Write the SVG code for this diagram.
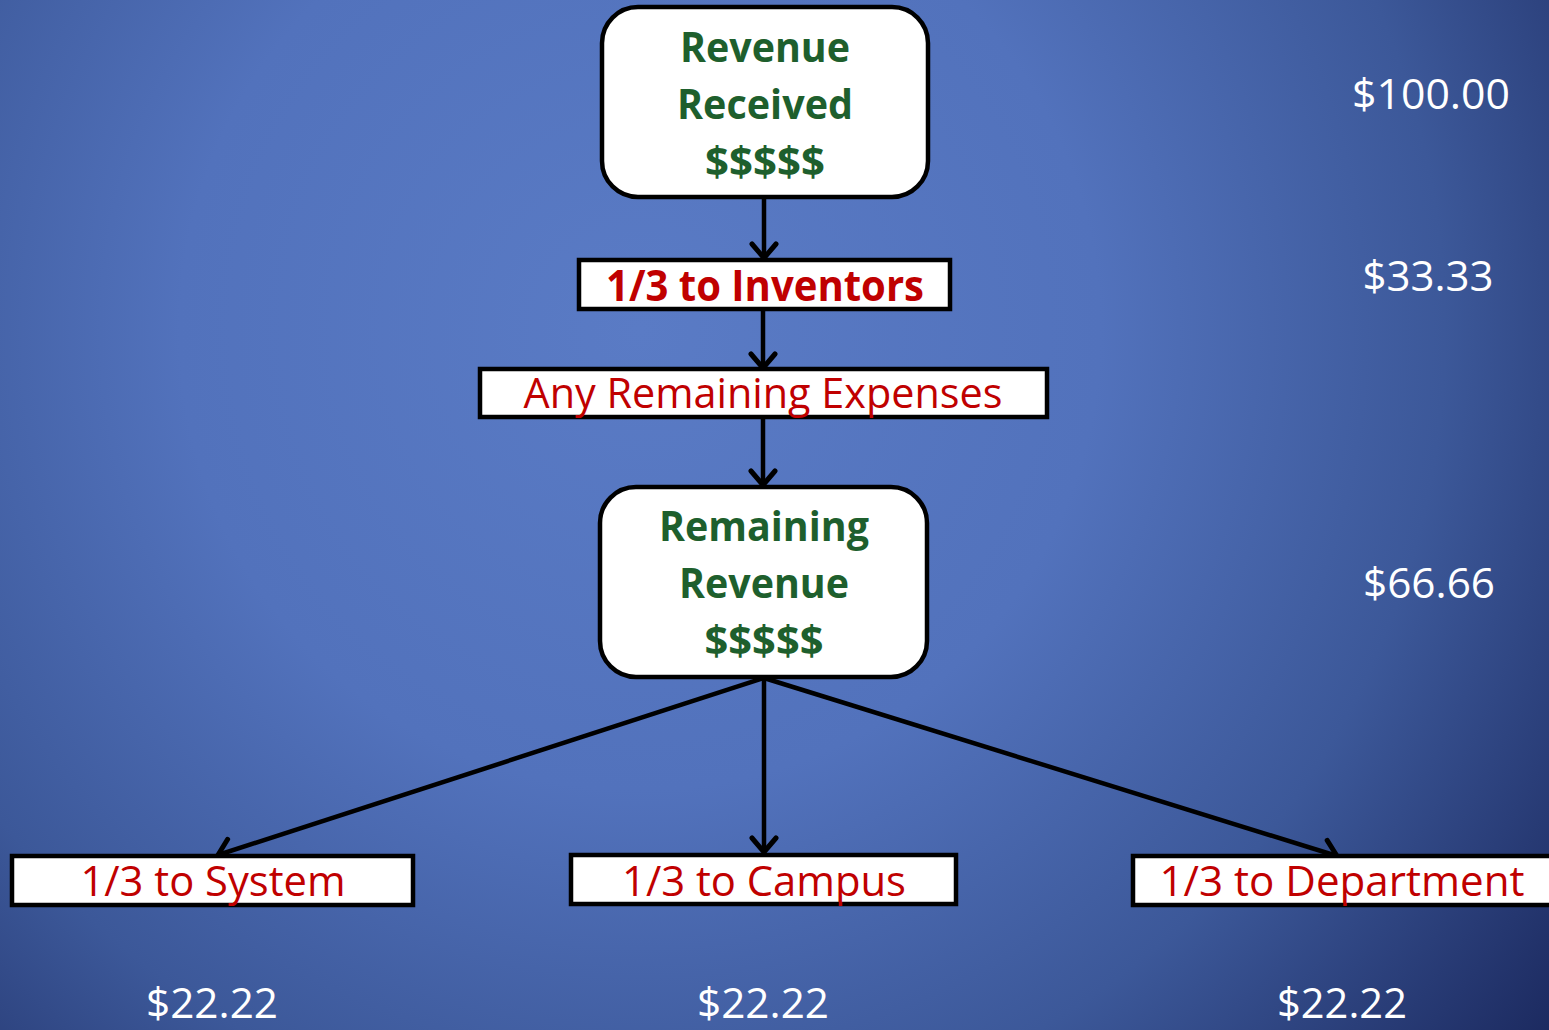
<svg xmlns="http://www.w3.org/2000/svg" width="1549" height="1030" viewBox="0 0 1549 1030">
<defs>
<radialGradient id="bg" gradientUnits="userSpaceOnUse" cx="640" cy="330" r="1150">
<stop offset="0" stop-color="#5a7bc5"/>
<stop offset="0.4" stop-color="#5272bc"/>
<stop offset="0.7" stop-color="#3c5899"/>
<stop offset="1" stop-color="#1c2a60"/>
</radialGradient>
<marker id="arr" viewBox="0 0 32 32" refX="27" refY="16" markerWidth="32" markerHeight="32" markerUnits="userSpaceOnUse" orient="auto">
<path d="M13,4 L27,16 L13,28" fill="none" stroke="#000" stroke-width="5" stroke-linecap="round" stroke-linejoin="round"/>
</marker>
<style>
.rbox{fill:#fff;stroke:#000;stroke-width:4.5}
.sbox{fill:#fff;stroke:#000;stroke-width:4.5}
.g{font-family:"Open Sans","Liberation Sans",sans-serif;font-weight:bold;font-size:42px;fill:#1e5f2d;text-anchor:middle}
.rb{font-family:"Open Sans","Liberation Sans",sans-serif;font-weight:bold;font-size:43px;fill:#c00000;text-anchor:middle}
.r{font-family:"Open Sans","Liberation Sans",sans-serif;font-size:42px;fill:#c00000;text-anchor:middle}
.w{font-family:"Open Sans","Liberation Sans",sans-serif;font-size:42px;fill:#fff;text-anchor:middle}
.c{stroke:#000;stroke-width:4.5;fill:none;marker-end:url(#arr)}
</style>
</defs>
<rect x="0" y="0" width="1549" height="1030" fill="url(#bg)"/>

<g id="connectors">
<line class="c" x1="764" y1="198" x2="764" y2="258"/>
<line class="c" x1="763" y1="310" x2="763" y2="368"/>
<line class="c" x1="763" y1="418" x2="763" y2="485"/>
<line class="c" x1="764" y1="678" x2="218" y2="855"/>
<line class="c" x1="764" y1="678" x2="764" y2="852"/>
<line class="c" x1="764" y1="678" x2="1337" y2="856"/>
</g>

<g id="revenue-received">
<rect class="rbox" x="602" y="7" width="326" height="190" rx="36"/>
<text class="g" x="765" y="62" textLength="170" lengthAdjust="spacingAndGlyphs">Revenue</text>
<text class="g" x="765" y="119" textLength="176" lengthAdjust="spacingAndGlyphs">Received</text>
<text class="g" x="765" y="176" textLength="120" lengthAdjust="spacingAndGlyphs">$$$$$</text>
</g>

<g id="inventors">
<rect class="sbox" x="579" y="260" width="371" height="49"/>
<text class="rb" x="765" y="301" textLength="318" lengthAdjust="spacingAndGlyphs">1/3 to Inventors</text>
</g>

<g id="expenses">
<rect class="sbox" x="480" y="369" width="567" height="48"/>
<text class="r" x="763" y="408" textLength="479" lengthAdjust="spacingAndGlyphs">Any Remaining Expenses</text>
</g>

<g id="remaining-revenue">
<rect class="rbox" x="600" y="487" width="327" height="190" rx="36"/>
<text class="g" x="764" y="541" textLength="210" lengthAdjust="spacingAndGlyphs">Remaining</text>
<text class="g" x="764" y="598" textLength="170" lengthAdjust="spacingAndGlyphs">Revenue</text>
<text class="g" x="764" y="655" textLength="119" lengthAdjust="spacingAndGlyphs">$$$$$</text>
</g>

<g id="system">
<rect class="sbox" x="12" y="856" width="401" height="49"/>
<text class="r" x="213" y="896" textLength="265" lengthAdjust="spacingAndGlyphs">1/3 to System</text>
</g>

<g id="campus">
<rect class="sbox" x="571" y="855" width="385" height="49"/>
<text class="r" x="764" y="896" textLength="284" lengthAdjust="spacingAndGlyphs">1/3 to Campus</text>
</g>

<g id="department">
<rect class="sbox" x="1133" y="856" width="425" height="49"/>
<text class="r" x="1342" y="896" textLength="365" lengthAdjust="spacingAndGlyphs">1/3 to Department</text>
</g>

<g id="values">
<text class="w" x="1431" y="109" textLength="158" lengthAdjust="spacingAndGlyphs">$100.00</text>
<text class="w" x="1428" y="291" textLength="131" lengthAdjust="spacingAndGlyphs">$33.33</text>
<text class="w" x="1429" y="598" textLength="132" lengthAdjust="spacingAndGlyphs">$66.66</text>
<text class="w" x="212" y="1018" textLength="132" lengthAdjust="spacingAndGlyphs">$22.22</text>
<text class="w" x="763" y="1018" textLength="132" lengthAdjust="spacingAndGlyphs">$22.22</text>
<text class="w" x="1342" y="1018" textLength="130" lengthAdjust="spacingAndGlyphs">$22.22</text>
</g>
</svg>
